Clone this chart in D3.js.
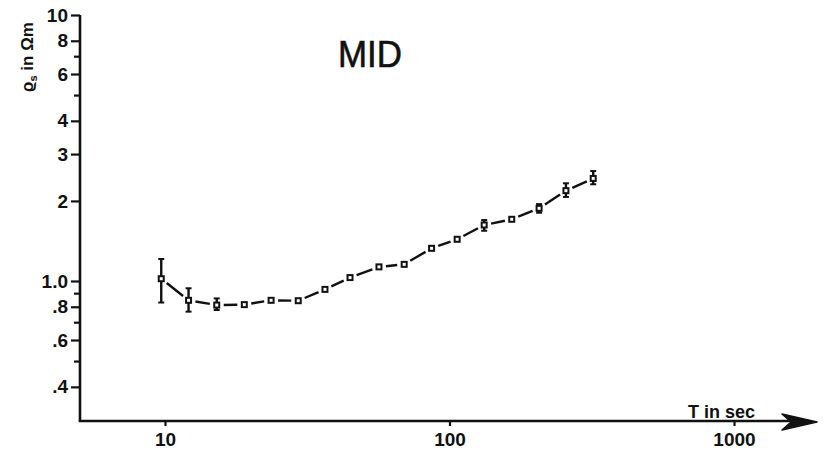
<!DOCTYPE html>
<html>
<head>
<meta charset="utf-8">
<script src="https://cdn.jsdelivr.net/npm/d3@7/dist/d3.min.js"></script>
<style>
  html, body { margin: 0; padding: 0; background: #ffffff; }
  svg { display: block; }
  text { font-family: "Liberation Sans", Arial, sans-serif; fill: #111; }
</style>
</head>
<body>
<svg id="chart" width="823" height="457"></svg>
<script>
// ---- data ----
const periods = [9.7, 12.1, 15.2, 19.0, 23.6, 29.4, 36.5, 44.7, 56.5, 69.3, 86.5, 106.4, 132.4, 165.5, 206.5, 256.6, 320];
const rhoValues = [1.02, 0.846, 0.812, 0.815, 0.846, 0.843, 0.930, 1.03, 1.13, 1.155, 1.327, 1.435, 1.624, 1.706, 1.876, 2.186, 2.43];
const errLow  = [0.83, 0.767, 0.778, null, null, null, null, null, null, null, null, null, 1.545, null, 1.806, 2.07, 2.31];
const errHigh = [1.21, 0.939, 0.86,  null, null, null, null, null, null, null, null, null, 1.695, null, 1.946, 2.33, 2.59];
const xTickValues = [10, 100, 1000];
const xTickLabels = ["10", "100", "1000"];
const yMajorTicks = [10, 8, 6, 4, 3, 2, 1.0, 0.8, 0.6, 0.4];
const yMajorLabels = ["10", "8", "6", "4", "3", "2", "1.0", ".8", ".6", ".4"];
const yMinorTicks = [7, 5, 0.9, 0.7, 0.5];
const titleText = "MID";
const xLabelText = "T in sec";

// ---- layout ----
const svg = d3.select("#chart");
const x = d3.scaleLog().domain([10, 1000]).range([165, 734]);
const y = d3.scaleLog().domain([1, 10]).range([281, 15]);
const x0 = 80, yBottom = 421, xEnd = 815, yTopVal = 10;

// axes lines
svg.append("line").attr("x1", x0).attr("x2", x0).attr("y1", y(yTopVal)).attr("y2", yBottom)
  .attr("stroke", "#111").attr("stroke-width", 2.6);
svg.append("line").attr("x1", x0 - 1.3).attr("x2", xEnd - 6).attr("y1", yBottom).attr("y2", yBottom)
  .attr("stroke", "#111").attr("stroke-width", 2.4);
// arrow head
svg.append("path")
  .attr("d", `M${xEnd - 33},${yBottom - 7} L${xEnd + 2},${yBottom + 1} L${xEnd - 33},${yBottom + 9} L${xEnd - 24},${yBottom + 1} Z`)
  .attr("fill", "#111").attr("stroke", "#111").attr("stroke-width", 1.5).attr("stroke-linejoin", "round");

// x axis ticks via d3 axis
const xAxis = d3.axisBottom(x).tickValues(xTickValues)
  .tickFormat((d, i) => xTickLabels[i]).tickSize(5).tickPadding(7).tickSizeOuter(0);
const gx = svg.append("g").attr("transform", `translate(0,${yBottom})`).call(xAxis);
gx.select(".domain").remove();
gx.selectAll(".tick line").attr("stroke", "#111").attr("stroke-width", 2.2);
gx.selectAll(".tick text").attr("font-size", 19).attr("font-weight", "bold")
  .attr("font-family", "Liberation Sans, Arial, sans-serif").attr("fill", "#111");

// y axis ticks via d3 axis
const yAxis = d3.axisLeft(y).tickValues(yMajorTicks)
  .tickFormat((d, i) => yMajorLabels[i]).tickSize(9).tickPadding(3).tickSizeOuter(0);
const gy = svg.append("g").attr("transform", `translate(${x0},0)`).call(yAxis);
gy.select(".domain").remove();
gy.selectAll(".tick line").attr("stroke", "#111").attr("stroke-width", 2.2);
gy.selectAll(".tick text").attr("font-size", 19).attr("font-weight", "bold")
  .attr("font-family", "Liberation Sans, Arial, sans-serif").attr("fill", "#111");

const yAxisMinor = d3.axisLeft(y).tickValues(yMinorTicks).tickFormat("").tickSize(6).tickSizeOuter(0);
const gym = svg.append("g").attr("transform", `translate(${x0},0)`).call(yAxisMinor);
gym.select(".domain").remove();
gym.selectAll(".tick line").attr("stroke", "#111").attr("stroke-width", 2.2);

// data
const pts = periods.map((t, i) => ({ t, v: rhoValues[i], lo: errLow[i], hi: errHigh[i] }));

// connecting segments with gaps at markers
const gap = 7;
const segs = d3.pairs(pts).map(([a, b]) => {
  const ax = x(a.t), ay = y(a.v), bx = x(b.t), by = y(b.v);
  const dx = bx - ax, dy = by - ay, L = Math.hypot(dx, dy);
  const ux = dx / L, uy = dy / L;
  return { x1: ax + ux * gap, y1: ay + uy * gap, x2: bx - ux * gap, y2: by - uy * gap };
});
svg.append("g").selectAll("line").data(segs).join("line")
  .attr("x1", d => d.x1).attr("y1", d => d.y1).attr("x2", d => d.x2).attr("y2", d => d.y2)
  .attr("stroke", "#111").attr("stroke-width", 2.4);

// error bars
const eb = svg.append("g").selectAll("g").data(pts.filter(d => d.lo != null)).join("g");
eb.append("line").attr("x1", d => x(d.t)).attr("x2", d => x(d.t))
  .attr("y1", d => y(d.hi)).attr("y2", d => y(d.lo)).attr("stroke", "#111").attr("stroke-width", 2.4);
eb.append("line").attr("x1", d => x(d.t) - 3).attr("x2", d => x(d.t) + 3)
  .attr("y1", d => y(d.hi)).attr("y2", d => y(d.hi)).attr("stroke", "#111").attr("stroke-width", 2);
eb.append("line").attr("x1", d => x(d.t) - 3).attr("x2", d => x(d.t) + 3)
  .attr("y1", d => y(d.lo)).attr("y2", d => y(d.lo)).attr("stroke", "#111").attr("stroke-width", 2);

// markers
svg.append("g").selectAll("rect").data(pts).join("rect")
  .attr("x", d => x(d.t) - 2.5).attr("y", d => y(d.v) - 2.5)
  .attr("width", 5).attr("height", 5)
  .attr("fill", "#fff").attr("stroke", "#111").attr("stroke-width", 2);

// title
svg.append("text").attr("x", 370).attr("y", 67).attr("text-anchor", "middle")
  .attr("font-size", 37).attr("textLength", 64).attr("lengthAdjust", "spacingAndGlyphs")
  .attr("stroke", "#111").attr("stroke-width", 0.6)
  .text(titleText);

// x label
svg.append("text").attr("x", 688).attr("y", 418).attr("font-size", 18).attr("font-weight", "bold")
  .text(xLabelText);

// y label
const yl = svg.append("text").attr("transform", "translate(33,92) rotate(-90)")
  .attr("font-size", 17).attr("font-weight", "bold");
yl.append("tspan").text("ϱ");
yl.append("tspan").attr("font-size", 11).attr("dy", 4).text("s");
yl.append("tspan").attr("dy", -4).text(" in Ωm");
</script>
</body>
</html>
